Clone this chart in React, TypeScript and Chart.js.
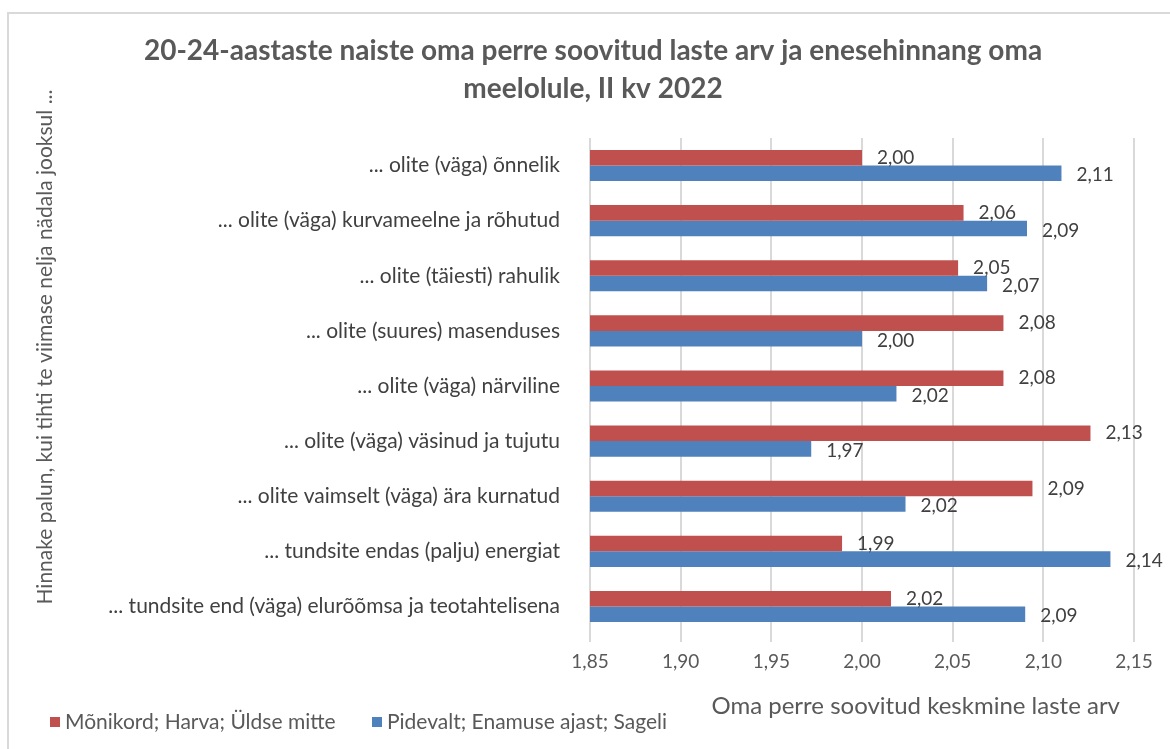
import React, { useEffect, useRef } from 'react';
import { Chart, registerables } from 'chart.js';
Chart.register(...registerables);

const titleLines = [
  '20-24-aastaste naiste oma perre soovitud laste arv ja enesehinnang oma',
  'meelolule, II kv 2022',
];
const categories = [
  '... olite (väga) õnnelik',
  '... olite (väga) kurvameelne ja rõhutud',
  '... olite (täiesti) rahulik',
  '... olite (suures) masenduses',
  '... olite (väga) närviline',
  '... olite (väga) väsinud ja tujutu',
  '... olite vaimselt (väga) ära kurnatud',
  '... tundsite endas (palju) energiat',
  '... tundsite end (väga) elurõõmsa ja teotahtelisena',
];
const redName = 'Mõnikord; Harva; Üldse mitte';
const blueName = 'Pidevalt; Enamuse ajast; Sageli';
const redValues = [2.0, 2.056, 2.053, 2.078, 2.078, 2.126, 2.094, 1.989, 2.016];
const blueValues = [2.11, 2.091, 2.069, 2.0, 2.019, 1.972, 2.024, 2.137, 2.09];
const xTicks = [1.85, 1.9, 1.95, 2.0, 2.05, 2.1, 2.15];
const xTitle = 'Oma perre soovitud keskmine laste arv';
const yTitle = 'Hinnake palun, kui tihti te viimase nelja nädala jooksul ...';

const RED = '#C0504D';
const BLUE = '#4F81BD';
const FONT = 'Lato, "Open Sans", sans-serif';
const fmt = (v: number) => v.toFixed(2).replace('.', ',');

const decorPlugin = {
  id: 'decor',
  afterDraw(chart: any) {
    const ctx = chart.ctx as CanvasRenderingContext2D;
    const ca = chart.chartArea;
    ctx.save();
    // outer border
    ctx.strokeStyle = '#d9d9d9';
    ctx.lineWidth = 2;
    ctx.beginPath();
    ctx.moveTo(8, 749);
    ctx.lineTo(8, 13);
    ctx.lineTo(1170, 13);
    ctx.stroke();
    // title
    ctx.fillStyle = '#595959';
    ctx.font = 'bold 28px ' + FONT;
    ctx.textAlign = 'center';
    ctx.textBaseline = 'middle';
    ctx.fillText(titleLines[0], 593, 51);
    ctx.fillText(titleLines[1], 593, 89);
    // x title
    ctx.font = '24px ' + FONT;
    ctx.textAlign = 'right';
    ctx.fillText(xTitle, ca.right - 14, 706);
    // y title
    ctx.save();
    ctx.translate(45, 347);
    ctx.rotate(-Math.PI / 2);
    ctx.font = '21px ' + FONT;
    ctx.textAlign = 'center';
    ctx.fillText(yTitle, 0, 0);
    ctx.restore();
    // legend
    const items = [
      { name: redName, color: RED, x: 50 },
      { name: blueName, color: BLUE, x: 372 },
    ];
    ctx.font = '21px ' + FONT;
    ctx.textAlign = 'left';
    items.forEach((it) => {
      ctx.fillStyle = it.color;
      ctx.fillRect(it.x, 717, 10, 10);
      ctx.fillStyle = '#595959';
      ctx.fillText(it.name, it.x + 15, 722);
    });
    ctx.restore();
  },
  afterDatasetsDraw(chart: any) {
    const ctx = chart.ctx as CanvasRenderingContext2D;
    ctx.save();
    ctx.font = '19px ' + FONT;
    ctx.fillStyle = '#404040';
    ctx.textAlign = 'left';
    ctx.textBaseline = 'middle';
    chart.data.datasets.forEach((ds: any, di: number) => {
      const meta = chart.getDatasetMeta(di);
      meta.data.forEach((el: any, i: number) => {
        ctx.fillText(fmt(ds.data[i]), el.x + 15, el.y + (di === 1 ? 2 : 0));
      });
    });
    ctx.restore();
  },
};

export default function App() {
  const ref = useRef<HTMLCanvasElement | null>(null);
  useEffect(() => {
    if (!ref.current) return;
    const chart = new Chart(ref.current, {
      type: 'bar',
      data: {
        labels: categories,
        datasets: [
          { label: redName, data: redValues, backgroundColor: RED, categoryPercentage: 0.565, barPercentage: 1 },
          { label: blueName, data: blueValues, backgroundColor: BLUE, categoryPercentage: 0.565, barPercentage: 1 },
        ],
      },
      options: {
        indexAxis: 'y',
        animation: false,
        responsive: false,
        devicePixelRatio: 1,
        layout: { padding: { top: 138, right: 36, bottom: 75, left: 0 } },
        plugins: {
          legend: { display: false },
          title: { display: false },
          tooltip: { enabled: false },
        },
        scales: {
          x: {
            type: 'linear',
            min: 1.85,
            max: 2.15,
            afterBuildTicks: (scale: any) => {
              scale.ticks = xTicks.map((v) => ({ value: v }));
            },
            afterFit: (scale: any) => {
              scale.height = 40;
            },
            grid: { color: '#d9d9d9', lineWidth: 2, tickLength: 8, drawTicks: true },
            border: { display: false },
            ticks: {
              color: '#595959',
              font: { family: FONT, size: 19 },
              padding: 8,
              callback: (v: any) => fmt(Number(v)),
            },
          },
          y: {
            type: 'category',
            afterFit: (scale: any) => {
              scale.width = 590;
            },
            grid: { display: false },
            border: { display: false },
            ticks: {
              color: '#404040',
              font: { family: FONT, size: 21 },
              padding: 22,
            },
          },
        },
      },
      plugins: [decorPlugin],
    } as any);
    return () => chart.destroy();
  }, []);
  return (
    <div style={{ position: 'fixed', left: 0, top: 0, width: 1170, height: 749, background: '#fff' }}>
      <canvas ref={ref} width={1170} height={749} style={{ width: 1170, height: 749, display: 'block' }} />
    </div>
  );
}
